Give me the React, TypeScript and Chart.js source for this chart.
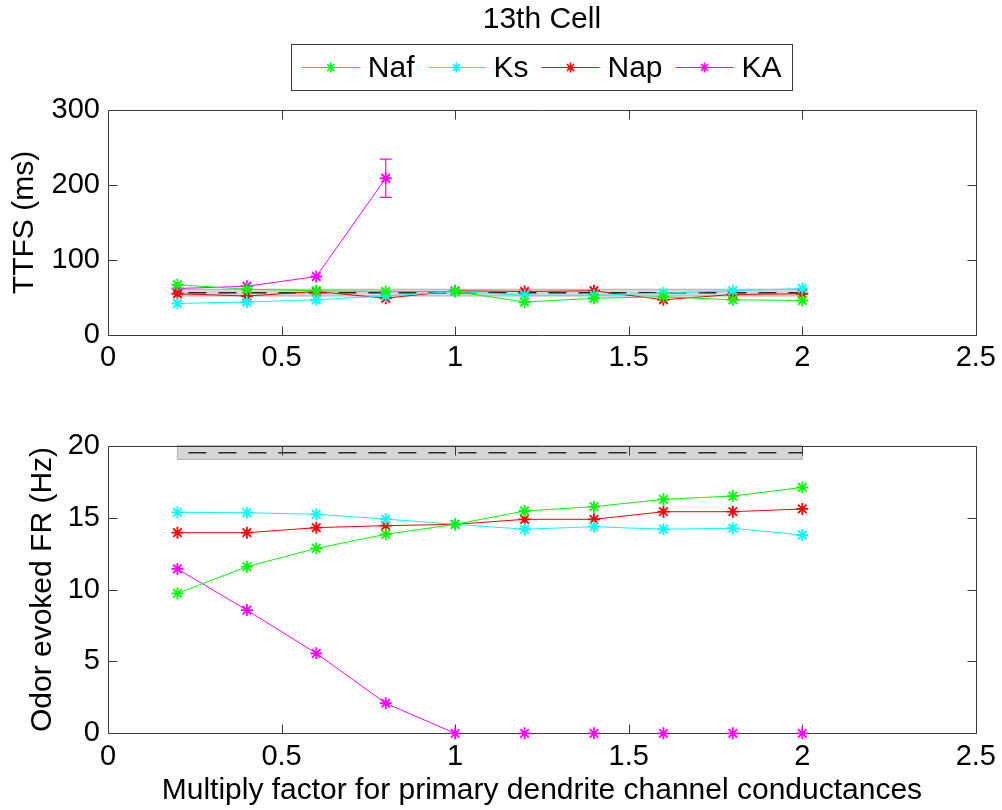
import React, { useEffect, useRef } from "react";
import { Chart, registerables } from "chart.js";

Chart.register(...registerables);

const FONT = "'Liberation Sans', Arial, Helvetica, sans-serif";

// ---------- data ----------
const factors = [0.2, 0.4, 0.6, 0.8, 1.0, 1.2, 1.4, 1.6, 1.8, 2.0];
const seriesNames = ["Naf", "Ks", "Nap", "KA"];
const seriesColors = ["#00ff00", "#00ffff", "#ff0000", "#ff00ff"];

const ttfsNaf = [67, 61, 59, 58, 58, 44, 49, 51, 47, 46];
const ttfsKs = [42, 44, 47, 52, 58, 53, 53, 56, 59, 62];
const ttfsNap = [55, 52, 58, 49, 59, 58, 59, 47, 54, 55];
const ttfsKA = [62, 65, 78, 209, null, null, null, null, null, null];
const ttfsKAErr = [0, 0, 0, 25.5, 0, 0, 0, 0, 0, 0];

const frNaf = [9.73, 11.59, 12.86, 13.84, 14.53, 15.46, 15.76, 16.27, 16.5, 17.1];
const frKs = [15.37, 15.34, 15.23, 14.9, 14.53, 14.19, 14.37, 14.19, 14.26, 13.79];
const frNap = [13.95, 13.95, 14.3, 14.44, 14.53, 14.88, 14.88, 15.41, 15.41, 15.6];
const frKA = [11.43, 8.57, 5.56, 2.09, 0, 0, 0, 0, 0, 0];

const bandRange = [0.2, 2.0];
const ttfsBand = [52, 61];
const ttfsMean = 56.5;
const frBand = [19.05, 20];
const frMean = 19.51;

const xTicks = [0, 0.5, 1, 1.5, 2, 2.5];
const ttfsTicks = [0, 100, 200, 300];
const frTicks = [0, 5, 10, 15, 20];

const titleText = "13th Cell";
const ttfsLabel = "TTFS (ms)";
const frLabel = "Odor evoked FR (Hz)";
const xLabel = "Multiply factor for primary dendrite channel conductances";

// ---------- helpers ----------
const FRAME = "#3a3a3a";
const px = (v: number) => Math.round(v) + 0.5;

function makeDatasets(series: (number | null)[][]) {
  return series.map((vals, k) => ({
    label: seriesNames[k],
    data: factors.map((x, i) => ({ x, y: vals[i] })),
    borderColor: seriesColors[k],
    backgroundColor: seriesColors[k],
    borderWidth: 1,
    pointStyle: "star" as const,
    pointRadius: 6,
    pointBorderWidth: 1.8,
    pointBorderColor: seriesColors[k],
    showLine: true,
    spanGaps: false,
    clip: false as any,
    segment: {
      borderColor: (c: any) =>
        c.p0.parsed.y === 0 && c.p1.parsed.y === 0 ? "rgba(0,0,0,0)" : undefined,
    },
  }));
}

function drawFrame(chart: any, yTicks: number[]) {
  const { ctx, chartArea: a, scales } = chart;
  const x = scales.x, y = scales.y;
  const L = px(a.left), R = px(a.right), T = px(a.top), B = px(a.bottom);
  const tl = 9;
  ctx.save();
  ctx.strokeStyle = FRAME;
  ctx.lineWidth = 1;
  ctx.beginPath();
  ctx.rect(L, T, R - L, B - T);
  for (const v of xTicks) {
    const xp = px(x.getPixelForValue(v));
    ctx.moveTo(xp, B); ctx.lineTo(xp, B - tl);
    ctx.moveTo(xp, T); ctx.lineTo(xp, T + tl);
  }
  for (const v of yTicks) {
    const yp = px(y.getPixelForValue(v));
    ctx.moveTo(L, yp); ctx.lineTo(L + tl, yp);
    ctx.moveTo(R, yp); ctx.lineTo(R - tl, yp);
  }
  ctx.stroke();
  ctx.restore();
}

function bandPlugin(band: number[], mean: number, yTicks: number[]) {
  return {
    id: "bandFrame",
    beforeDatasetsDraw(chart: any) {
      const { ctx, scales } = chart;
      const x = scales.x, y = scales.y;
      const x0 = x.getPixelForValue(bandRange[0]);
      const x1 = x.getPixelForValue(bandRange[1]);
      const yT = y.getPixelForValue(band[1]);
      const yB = y.getPixelForValue(band[0]);
      const ym = y.getPixelForValue(mean);
      ctx.save();
      ctx.fillStyle = "#d6d6d6";
      ctx.fillRect(x0, yT, x1 - x0, yB - yT);
      ctx.strokeStyle = "#b0b0b0";
      ctx.lineWidth = 1;
      ctx.strokeRect(x0, yT, x1 - x0, yB - yT);
      ctx.setLineDash([18, 12]);
      ctx.lineDashOffset = 19;
      ctx.strokeStyle = "#2a2a2a";
      ctx.lineWidth = 1.5;
      ctx.beginPath();
      ctx.moveTo(x0, ym);
      ctx.lineTo(x1, ym);
      ctx.stroke();
      ctx.restore();
      drawFrame(chart, yTicks);
    },
  };
}

function errorPlugin(vals: (number | null)[], errs: number[], color: string) {
  return {
    id: "errBars",
    afterDatasetsDraw(chart: any) {
      const { ctx, scales } = chart;
      const x = scales.x, y = scales.y;
      ctx.save();
      ctx.strokeStyle = color;
      ctx.lineWidth = 1.2;
      ctx.beginPath();
      factors.forEach((f, i) => {
        const v = vals[i];
        const e = errs[i];
        if (v === null || !e) return;
        const xp = x.getPixelForValue(f);
        const y0 = y.getPixelForValue(v - e);
        const y1 = y.getPixelForValue(v + e);
        ctx.moveTo(xp, y0); ctx.lineTo(xp, y1);
        ctx.moveTo(xp - 6, y0); ctx.lineTo(xp + 6, y0);
        ctx.moveTo(xp - 6, y1); ctx.lineTo(xp + 6, y1);
      });
      ctx.stroke();
      ctx.restore();
    },
  };
}

function drawStar(ctx: CanvasRenderingContext2D, cx: number, cy: number, r: number) {
  const d = r * Math.SQRT1_2;
  ctx.beginPath();
  ctx.moveTo(cx - r, cy); ctx.lineTo(cx + r, cy);
  ctx.moveTo(cx, cy - r); ctx.lineTo(cx, cy + r);
  ctx.moveTo(cx - d, cy - d); ctx.lineTo(cx + d, cy + d);
  ctx.moveTo(cx - d, cy + d); ctx.lineTo(cx + d, cy - d);
  ctx.stroke();
}

const headerPlugin = {
  id: "header",
  afterDraw(chart: any) {
    const { ctx, chartArea: a } = chart;
    const cx = (a.left + a.right) / 2;
    ctx.save();
    ctx.fillStyle = "#000";
    ctx.font = `30px ${FONT}`;
    ctx.textAlign = "center";
    ctx.textBaseline = "middle";
    ctx.fillText(titleText, cx, 20);

    const widths = seriesNames.map((n) => ctx.measureText(n).width);
    const padL = 10.5, padR = 11, lineLen = 58, gapText = 8, gapEntry = 13;
    const total =
      padL + padR + widths.reduce((s, w) => s + w + lineLen + gapText, 0) + gapEntry * (seriesNames.length - 1);
    const left = cx - total / 2;
    const boxTop = 44.5, boxH = 46;
    ctx.strokeStyle = FRAME;
    ctx.lineWidth = 1;
    ctx.strokeRect(px(left), boxTop, Math.round(total), boxH);
    const ly = boxTop + boxH / 2;
    let xx = left + padL;
    ctx.textAlign = "left";
    seriesNames.forEach((n, k) => {
      ctx.strokeStyle = seriesColors[k];
      ctx.lineWidth = 1;
      ctx.beginPath();
      ctx.moveTo(xx, ly); ctx.lineTo(xx + lineLen, ly);
      ctx.stroke();
      ctx.lineWidth = 1.6;
      drawStar(ctx, xx + lineLen / 2, ly, 5);
      ctx.fillStyle = "#000";
      ctx.fillText(n, xx + lineLen + gapText, ly + 1);
      xx += lineLen + gapText + widths[k] + gapEntry;
    });
    ctx.restore();
  },
};

function baseOptions(
  yTicks: number[],
  yLabel: string,
  yTitlePad: number,
  xAxisHeight: number,
  padTop: number,
  showXTitle: boolean
): any {
  return {
    responsive: false,
    animation: false,
    events: [],
    layout: { padding: { top: padTop, left: 0, right: 24, bottom: 0 } },
    plugins: { legend: { display: false }, tooltip: { enabled: false }, title: { display: false } },
    scales: {
      x: {
        type: "linear",
        position: "bottom",
        min: xTicks[0],
        max: xTicks[xTicks.length - 1],
        grid: { display: false, drawTicks: false },
        border: { display: false },
        afterBuildTicks: (s: any) => {
          s.ticks = xTicks.map((v) => ({ value: v }));
        },
        afterFit: (s: any) => {
          s.height = xAxisHeight;
        },
        ticks: {
          autoSkip: false,
          maxRotation: 0,
          padding: 6,
          color: "#000",
          font: { family: FONT, size: 29 },
          callback: (v: any) => String(v),
        },
        title: {
          display: showXTitle,
          text: xLabel,
          color: "#000",
          font: { family: FONT, size: 30 },
          padding: { top: 0, bottom: 1 },
        },
      },
      y: {
        type: "linear",
        min: yTicks[0],
        max: yTicks[yTicks.length - 1],
        grid: { display: false, drawTicks: false },
        border: { display: false },
        afterBuildTicks: (s: any) => {
          s.ticks = yTicks.map((v) => ({ value: v }));
        },
        afterFit: (s: any) => {
          s.width = 108;
        },
        ticks: {
          autoSkip: false,
          padding: 8,
          color: "#000",
          font: { family: FONT, size: 29 },
          callback: (v: any) => String(v),
        },
        title: {
          display: true,
          text: yLabel,
          color: "#000",
          font: { family: FONT, size: 30 },
          padding: { top: yTitlePad, bottom: 0 },
        },
      },
    },
  };
}

export default function App() {
  const topRef = useRef<HTMLCanvasElement>(null);
  const botRef = useRef<HTMLCanvasElement>(null);

  useEffect(() => {
    const top = new Chart(topRef.current as HTMLCanvasElement, {
      type: "scatter",
      data: { datasets: makeDatasets([ttfsNaf, ttfsKs, ttfsNap, ttfsKA]) as any },
      options: baseOptions(ttfsTicks, ttfsLabel, 7, 55, 110, false),
      plugins: [bandPlugin(ttfsBand, ttfsMean, ttfsTicks), errorPlugin(ttfsKA, ttfsKAErr, seriesColors[3]), headerPlugin],
    });
    const bot = new Chart(botRef.current as HTMLCanvasElement, {
      type: "scatter",
      data: { datasets: makeDatasets([frNaf, frKs, frNap, frKA]) as any },
      options: baseOptions(frTicks, frLabel, 25, 76.7, 55.7, true),
      plugins: [bandPlugin(frBand, frMean, frTicks)],
    });
    return () => {
      top.destroy();
      bot.destroy();
    };
  }, []);

  return (
    <div style={{ position: "absolute", left: 0, top: 0, width: 1002, height: 810, background: "#fff" }}>
      <canvas
        ref={topRef}
        width={1002}
        height={390}
        style={{ position: "absolute", left: 0, top: 0, width: 1002, height: 390 }}
      />
      <canvas
        ref={botRef}
        width={1002}
        height={420}
        style={{ position: "absolute", left: 0, top: 390, width: 1002, height: 420 }}
      />
    </div>
  );
}
